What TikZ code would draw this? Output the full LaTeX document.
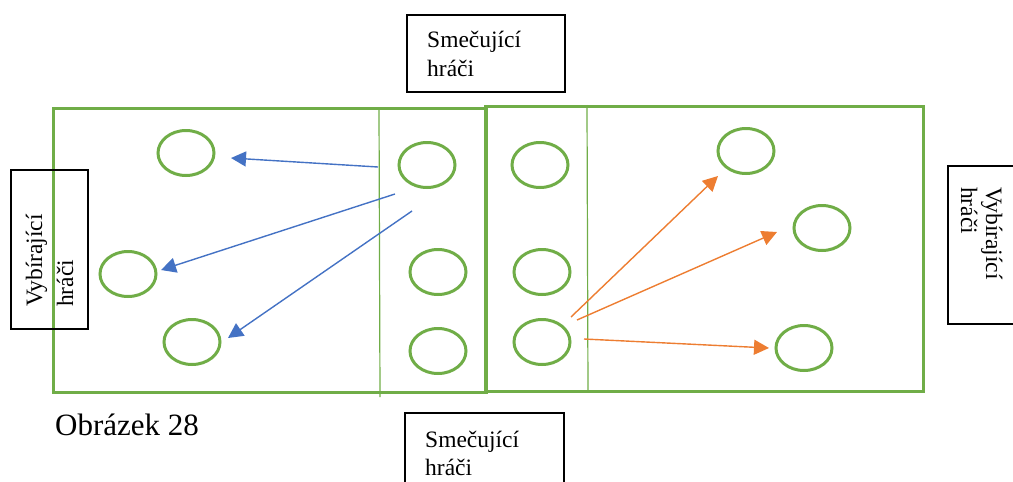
\documentclass[tikz,border=0pt]{standalone}
\usepackage{fontspec}
\setmainfont{Liberation Serif}
\usetikzlibrary{shapes.geometric,arrows.meta}
\definecolor{court}{HTML}{70AD47}
\definecolor{bluearr}{HTML}{4472C4}
\definecolor{orangearr}{HTML}{ED7D31}
\tikzset{
  pl/.style={draw=court, line width=3pt, ellipse, minimum width=56pt, minimum height=45pt, inner sep=0pt},
  courtline/.style={draw=court, line width=3pt},
  thinline/.style={draw=court, line width=1.2pt},
  boxnode/.style={draw=black, line width=2pt, anchor=north west, inner sep=0pt},
  lbl/.style={inner sep=0pt, font=\fontsize{23.5}{28}\selectfont},
  captiontext/.style={inner sep=0pt, font=\fontsize{31}{36}\selectfont},
  barr/.style={draw=bluearr, line width=1.4pt, -{Triangle[length=15pt,width=15pt]}},
  oarr/.style={draw=orangearr, line width=1.4pt, -{Triangle[length=15pt,width=15pt]}},
}
\begin{document}
\begin{tikzpicture}[x=1pt,y=-1pt]
\useasboundingbox (0,0) rectangle (1013,482);
% court
\draw[courtline] (53,108) rectangle (486,392);
\draw[courtline] (485,106) rectangle (923,391);
\draw[thinline] (379,108) -- (380,397);
\draw[thinline] (587,105) -- (588,392);
% boxes
\node[boxnode, minimum width=158pt, minimum height=77pt] (topbox) at (406,14) {};
\node[lbl, anchor=base west] (top1) at (427,47) {Smečující};
\node[lbl, anchor=base west] (top2) at (427,76) {hráči};
\node[boxnode, minimum width=159pt, minimum height=100pt] (botbox) at (404,412) {};
\node[lbl, anchor=base west] (bot1) at (425,447) {Smečující};
\node[lbl, anchor=base west] (bot2) at (425,475) {hráči};
\node[boxnode, minimum width=77pt, minimum height=159pt] (leftbox) at (10,169) {};
\node[lbl, anchor=base west, rotate=90] (left1) at (42,307) {Vybírající};
\node[lbl, anchor=base west, rotate=90] (left2) at (73,307) {hráči};
\node[boxnode, minimum width=90pt, minimum height=158pt] (rightbox) at (947,165) {};
\node[lbl, anchor=base west, rotate=-90] (right1) at (986,187) {Vybírající};
\node[lbl, anchor=base west, rotate=-90] (right2) at (961,187) {hráči};
% caption
\node[captiontext, anchor=base west] (caption) at (55,435) {Obrázek 28};
% players
\node[pl] (p1) at (186,153) {};
\node[pl] (p2) at (128,274) {};
\node[pl] (p3) at (192,342) {};
\node[pl] (p4) at (427,165) {};
\node[pl] (p5) at (438,272) {};
\node[pl] (p6) at (438,351) {};
\node[pl] (p7) at (540,165) {};
\node[pl] (p8) at (542,272) {};
\node[pl] (p9) at (542,342) {};
\node[pl] (p10) at (746,151) {};
\node[pl] (p11) at (822,228) {};
\node[pl] (p12) at (804,348) {};
% arrow ends
\coordinate (a1s) at (378,167); \coordinate (a1e) at (231,158);
\coordinate (a2s) at (395,194); \coordinate (a2e) at (161,270);
\coordinate (a3s) at (412,211); \coordinate (a3e) at (228,338);
\coordinate (b1s) at (571,317); \coordinate (b1e) at (718,176);
\coordinate (b2s) at (577,320); \coordinate (b2e) at (777,232);
\coordinate (b3s) at (584,339); \coordinate (b3e) at (769,348);
\draw[barr] (a1s) -- (a1e);
\draw[barr] (a2s) -- (a2e);
\draw[barr] (a3s) -- (a3e);
\draw[oarr] (b1s) -- (b1e);
\draw[oarr] (b2s) -- (b2e);
\draw[oarr] (b3s) -- (b3e);
\end{tikzpicture}
\end{document}
